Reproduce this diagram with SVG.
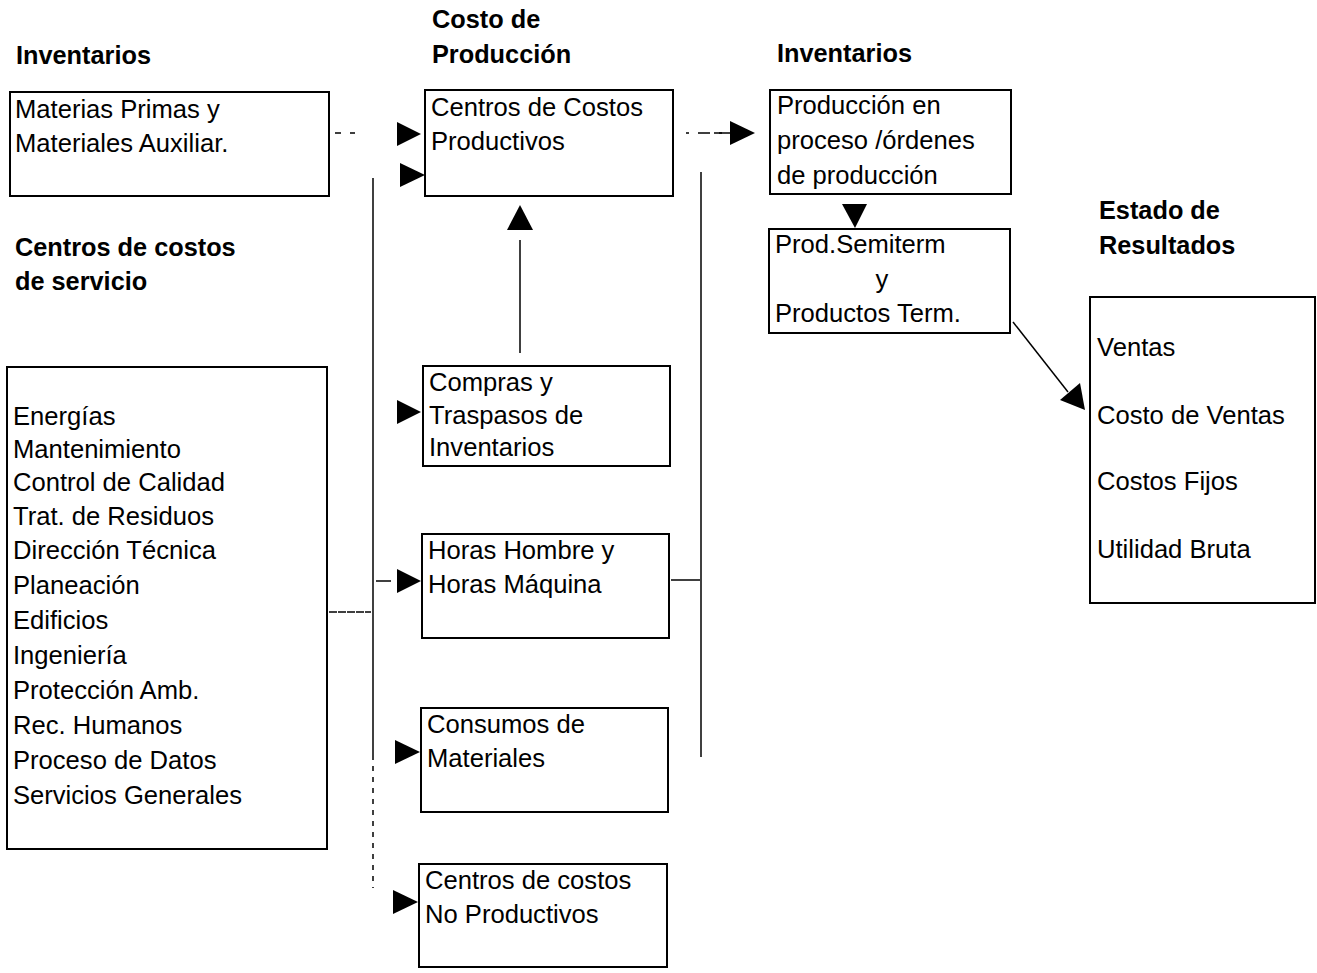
<svg xmlns="http://www.w3.org/2000/svg" width="1317" height="973" viewBox="0 0 1317 973">
<style>
text{font-family:"Liberation Sans",Arial,sans-serif;font-size:25.6px;fill:#000}
.h{font-weight:bold;font-size:25.3px}
.box{fill:#fff;stroke:#000;stroke-width:2}
.ln{stroke:#000;stroke-width:1.5;fill:none}
.ah{fill:#000}
</style>
<rect width="1317" height="973" fill="#fff"/>
<g id="headings">
<text class="h" x="16" y="64">Inventarios</text>
<text class="h" x="432" y="28">Costo de</text>
<text class="h" x="432" y="63">Producción</text>
<text class="h" x="777" y="62">Inventarios</text>
<text class="h" x="1099" y="219">Estado de</text>
<text class="h" x="1099" y="254">Resultados</text>
<text class="h" x="15" y="256">Centros de costos</text>
<text class="h" x="15" y="290">de servicio</text>
</g>
<g id="connectors">
<line class="ln" x1="335" y1="133" x2="355" y2="133" stroke-dasharray="6 9"/>
<polygon class="ah" points="397,122 421,134 397,146"/>
<polygon class="ah" points="400,163 425,175 400,187"/>
<line class="ln" x1="373" y1="178" x2="373" y2="755"/>
<line class="ln" x1="373" y1="755" x2="373" y2="888" stroke-dasharray="5 6"/>
<line class="ln" x1="329" y1="612" x2="371" y2="612" stroke-dasharray="8 1"/>
<line class="ln" x1="376" y1="581" x2="391" y2="581"/>
<polygon class="ah" points="397,400 421,412 397,424"/>
<polygon class="ah" points="397,569 421,581 397,593"/>
<polygon class="ah" points="395,740 420,752 395,764"/>
<polygon class="ah" points="393,890 418,902 393,914"/>
<line class="ln" x1="520" y1="240" x2="520" y2="353"/>
<polygon class="ah" points="507,230 520,205 533,230"/>
<line class="ln" x1="701" y1="172" x2="701" y2="757"/>
<line class="ln" x1="671" y1="580" x2="700" y2="580"/>
<line class="ln" x1="686" y1="133" x2="730" y2="133" stroke-dasharray="3 9 12 9"/>
<line class="ln" x1="714" y1="133" x2="731" y2="133"/>
<polygon class="ah" points="730,121 755,133 730,145"/>
<polygon class="ah" points="842,204 867,204 855,228"/>
<line class="ln" x1="1013" y1="322" x2="1068" y2="392"/>
<polygon class="ah" points="1060,400 1080,383 1085,410"/>
</g>
<g id="materias">
<rect class="box" x="10" y="92" width="319" height="104"/>
<text x="15" y="118">Materias Primas y</text>
<text x="15" y="152">Materiales Auxiliar.</text>
</g>
<g id="servicio">
<rect class="box" x="7" y="367" width="320" height="482"/>
<text x="13" y="425">Energías</text>
<text x="13" y="458">Mantenimiento</text>
<text x="13" y="491">Control de Calidad</text>
<text x="13" y="525">Trat. de Residuos</text>
<text x="13" y="559">Dirección Técnica</text>
<text x="13" y="594">Planeación</text>
<text x="13" y="629">Edificios</text>
<text x="13" y="664">Ingeniería</text>
<text x="13" y="699">Protección Amb.</text>
<text x="13" y="734">Rec. Humanos</text>
<text x="13" y="769">Proceso de Datos</text>
<text x="13" y="804">Servicios Generales</text>
</g>
<g id="productivos">
<rect class="box" x="425" y="90" width="248" height="106"/>
<text x="431" y="116">Centros de Costos</text>
<text x="431" y="150">Productivos</text>
</g>
<g id="compras">
<rect class="box" x="423" y="366" width="247" height="100"/>
<text x="429" y="391">Compras y</text>
<text x="429" y="424">Traspasos de</text>
<text x="429" y="456">Inventarios</text>
</g>
<g id="horas">
<rect class="box" x="422" y="534" width="247" height="104"/>
<text x="428" y="559">Horas Hombre y</text>
<text x="428" y="593">Horas Máquina</text>
</g>
<g id="consumos">
<rect class="box" x="421" y="708" width="247" height="104"/>
<text x="427" y="733">Consumos de</text>
<text x="427" y="767">Materiales</text>
</g>
<g id="noproductivos">
<rect class="box" x="419" y="864" width="248" height="103"/>
<text x="425" y="889">Centros de costos</text>
<text x="425" y="923">No Productivos</text>
</g>
<g id="proceso">
<rect class="box" x="770" y="90" width="241" height="104"/>
<text x="777" y="114">Producción en</text>
<text x="777" y="149">proceso /órdenes</text>
<text x="777" y="184">de producción</text>
</g>
<g id="semiterm">
<rect class="box" x="769" y="229" width="241" height="104"/>
<text x="775" y="253">Prod.Semiterm</text>
<text x="882" y="288" text-anchor="middle">y</text>
<text x="775" y="322">Productos Term.</text>
</g>
<g id="resultados">
<rect class="box" x="1090" y="297" width="225" height="306"/>
<text x="1097" y="356">Ventas</text>
<text x="1097" y="424">Costo de Ventas</text>
<text x="1097" y="490">Costos Fijos</text>
<text x="1097" y="558">Utilidad Bruta</text>
</g>
</svg>
